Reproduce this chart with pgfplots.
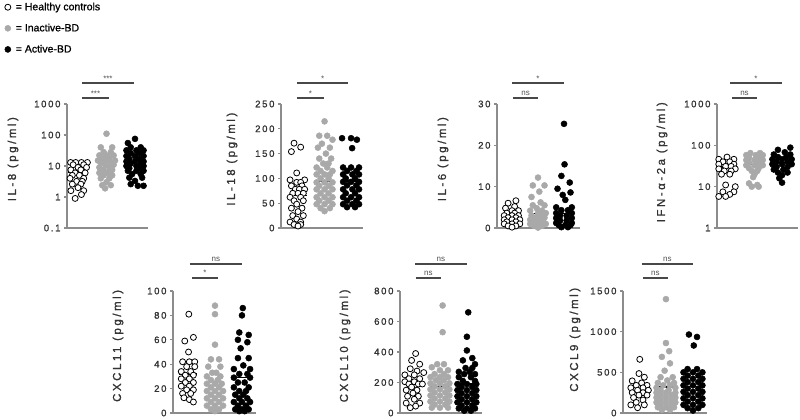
\documentclass[border=0pt]{standalone}
\usepackage{pgfplots}
\pgfplotsset{compat=1.18}
\usepackage{fontspec}
\setmainfont{Liberation Sans}
\newfontfamily\spfont[LetterSpace=18, FakeBold=1.2]{Liberation Sans}
\newfontfamily\lbfont[LetterSpace=22, FakeBold=1.2]{Liberation Sans}
\newfontfamily\lgfont[FakeBold=1]{Liberation Sans}
\definecolor{axgray}{HTML}{8C8C8C}
\definecolor{txtgray}{HTML}{333333}
\definecolor{inagray}{HTML}{A9A9A9}
\definecolor{bargray}{HTML}{484848}
\definecolor{siggray}{HTML}{505050}
\newcommand\tickfont{\spfont\fontsize{9.5}{10}\selectfont}
\newcommand\labfont{\lbfont\fontsize{11.5}{12}\selectfont}
\newcommand\sigfont{\fontsize{8}{9}\selectfont}
\newcommand\legfont{\lgfont\fontsize{10.5}{12}\selectfont}
\pgfplotsset{
 panel/.style={scale only axis, axis lines=left,
   axis line style={-, draw=axgray, line width=1.1pt},
   xtick=\empty, tick align=outside, major tick length=3pt,
   every tick/.style={draw=axgray, line width=1.1pt},
   yticklabel style={font=\tickfont, text=txtgray},
   ylabel style={font=\labfont, text=txtgray, anchor=center},
   clip=false, enlargelimits=false, yminorticks=false,
   /pgf/number format/assume math mode=true},
 hc/.style={only marks, mark=*, mark size=3pt, mark options={fill=white, draw=black, line width=0.8pt}},
 ib/.style={only marks, mark=*, mark size=3pt, mark options={fill=inagray, draw=inagray, line width=0.5pt}},
 ab/.style={only marks, mark=*, mark size=3pt, mark options={fill=black, draw=black, line width=0.5pt}},
 med/.style={black, line width=1.3pt, forget plot, no marks},
}
\tikzset{sigbar/.style={draw=bargray, line width=1.6pt}}
\newcommand{\sig}[4]{\draw[sigbar] ({axis cs:#1,1}|-{rel axis cs:0,#3}) -- node[above, font=\sigfont, text=siggray, inner sep=1.2pt] {#4} ({axis cs:#2,1}|-{rel axis cs:0,#3});}

\begin{document}
\begin{tikzpicture}
\useasboundingbox (0pt,0pt) rectangle (800pt,420pt);

% ---------- IL-8 ----------
\begin{axis}[panel, at={(67pt,192pt)}, anchor=south west, width=81pt, height=124pt,
  xmin=0.614, xmax=3.456, ymode=log, ymin=0.1, ymax=1000,
  ytick={0.1,1,10,100,1000}, yticklabels={0.1,1,10,100,1000},
  ylabel={IL-8 (pg/ml)}, ylabel style={at={(axis description cs:-0.667,0.555)}},
  legend style={at={(axis description cs:-0.77,1.835)}, anchor=north west, draw=none, fill=none,
    font=\legfont, row sep=8pt, inner sep=0pt, column sep=3pt,
    mark options={scale=1.15}},
  legend image code/.code={\draw[#1] plot coordinates {(3pt,0pt)};},
  legend cell align=left]
\addplot[hc] coordinates {(0.74,13)(0.92,13)(1.12,13)(1.33,13)(0.83,11)(1.2,11)(1.0,9)(1.3,9)
 (0.75,7.5)(1.1,7.5)(0.9,6)(1.25,6)(0.8,5)(1.05,5)(0.72,4)(1.2,4)(0.95,3.2)(1.15,3.2)
 (0.8,2.6)(1.1,2.6)(1.0,2)(0.75,1.6)(1.2,1.6)(1.12,1.2)(0.9,0.9)};
\addlegendentry{= Healthy controls}
\addplot[ib] coordinates {(2,110)(1.8,40)(2.2,40)(1.9,28)(2.15,28)(1.75,22)(2,22)(2.25,22)
 (1.85,18)(2.1,18)(1.7,15)(2,15)(2.3,15)(1.8,13)(2.15,13)(1.95,11)(2.25,11)(1.75,9)(2.1,9)
 (1.9,7.5)(2.2,7.5)(1.75,6)(2.05,6)(1.9,5)(2.2,5)(1.8,4)(2.1,4)(2,3)(1.85,2.4)(2.15,2.4)(1.95,1.9)};
\addlegendentry{= Inactive-BD}
\addplot[ab] coordinates {(3,75)(2.75,55)(2.85,40)(3.2,40)(2.7,32)(3.05,32)(3.3,32)(2.85,26)(3.15,26)
 (2.7,21)(3,21)(3.3,21)(2.8,17)(3.15,17)(2.7,14)(3,14)(3.3,14)(2.85,12)(3.2,12)(2.7,10)(3.05,10)(3.3,10)
 (2.8,8.5)(3.15,8.5)(2.75,7)(3.05,7)(3.3,7)(2.9,5.5)(3.2,5.5)(2.8,4.2)(3.25,4.2)(3,3.3)(2.85,2.6)(3.1,2.3)(3.3,2.3)};
\addlegendentry{= Active-BD}
\addplot[med] coordinates {(0.65,6.2)(1.35,6.2)};
\addplot[med] coordinates {(1.65,15)(2.35,15)};
\addplot[med] coordinates {(2.65,14)(3.35,14)};
\sig{1.14}{2.96}{1.169}{***}
\sig{1.14}{2.09}{1.048}{***}
\end{axis}

% ---------- IL-18 ----------
\begin{axis}[panel, at={(281pt,192pt)}, anchor=south west, width=82pt, height=124pt,
  xmin=0.358, xmax=3.45, ymin=0, ymax=250,
  ytick={0,50,100,150,200,250}, yticklabels={0,50,100,150,200,250},
  ylabel={IL-18 (pg/ml)}, ylabel style={at={(axis description cs:-0.598,0.555)}}]
\addplot[hc] coordinates {(0.85,171)(1.1,163)(0.75,154)(0.95,111)(0.7,97)(1.25,97)(0.95,92)(1.1,92)
 (0.75,85)(1.15,85)(0.9,78)(1.05,78)(1.25,78)(0.8,70)(1,70)(1.2,70)(0.7,62)(1.1,62)(0.85,55)(1.2,55)
 (0.95,48)(0.75,40)(1.15,40)(1,33)(0.8,25)(1.2,25)(0.95,18)(0.7,12)(1.1,12)(0.85,7)(1.1,7)(1,4)};
\addplot[ib] coordinates {(2,215)(1.8,186)(2.1,186)(2.3,178)(1.9,170)(1.75,162)(2.2,162)(2.05,150)
 (1.8,140)(2.25,140)(1.95,130)(2.15,130)(1.7,122)(2.1,122)(1.85,115)(2.3,115)(1.7,108)(2,108)(2.2,108)
 (1.85,100)(2.15,100)(1.7,92)(2,92)(2.3,92)(1.8,85)(2.15,85)(1.7,78)(2,78)(2.3,78)(1.85,70)(2.15,70)
 (1.7,62)(2,62)(2.3,62)(1.8,55)(2.15,55)(1.7,48)(2,48)(2.3,48)(1.85,40)(2.2,40)(2,34)};
\addplot[ab] coordinates {(2.66,181)(3.0,181)(3.22,178)(3.04,161)(2.7,122)(3,122)(3.3,122)(2.85,115)(3.2,115)
 (2.7,108)(3.05,108)(3.3,108)(2.8,100)(3.15,100)(2.7,93)(3,93)(3.3,93)(2.85,86)(3.2,86)
 (2.7,78)(3.05,78)(3.3,78)(2.8,70)(3.15,70)(2.7,62)(3,62)(3.3,62)(2.85,55)(3.2,55)
 (2.7,48)(3.05,48)(3.3,48)(2.85,42)(3.15,42)};
\addplot[med] coordinates {(0.65,66)(1.35,66)};
\addplot[med] coordinates {(1.65,95)(2.35,95)};
\addplot[med] coordinates {(2.65,95)(3.35,95)};
\sig{0.96}{2.89}{1.169}{*}
\sig{0.96}{1.98}{1.048}{*}
\end{axis}

% ---------- IL-6 ----------
\begin{axis}[panel, at={(497pt,192pt)}, anchor=south west, width=83pt, height=124pt,
  xmin=0.423, xmax=3.615, ymin=0, ymax=30,
  ytick={0,10,20,30}, yticklabels={0,10,20,30},
  ylabel={IL-6 (pg/ml)}, ylabel style={at={(axis description cs:-0.651,0.555)}}]
\addplot[hc] coordinates {(1.15,6.6)(0.85,6)(1.1,5.2)(0.75,4.8)(1,4.2)(1.25,4.2)(0.8,3.6)(1.1,3.6)
 (0.7,3)(1,3)(1.25,3)(0.85,2.5)(1.15,2.5)(0.7,2)(1,2)(1.3,2)(0.8,1.5)(1.15,1.5)(0.7,1)(1,1)(1.3,1)
 (0.85,0.5)(1.15,0.5)(1,0.2)};
\addplot[ib] coordinates {(2,12.2)(1.8,10.3)(2.25,10.3)(2.05,8.8)(1.75,7.5)(2.1,6.2)(1.8,5.5)(2.25,5.5)
 (1.95,4.8)(1.7,4.2)(2.15,4.2)(2,3.6)(2.3,3.6)(1.75,3)(2.1,3)(1.9,2.5)(2.25,2.5)(1.7,2)(2.05,2)
 (1.85,1.5)(2.2,1.5)(1.7,1)(2,1)(2.3,1)(1.85,0.5)(2.15,0.5)(2,0.1)};
\addplot[ab] coordinates {(3,25.2)(3.02,15.4)(2.9,12.6)(3.22,11)(2.75,9.5)(3.25,8.6)(2.95,8)(3.05,6.8)
 (2.7,5)(3.3,5)(2.9,4.3)(3.15,4.3)(2.7,3.6)(3.3,3.6)(2.85,3)(3.1,3)(2.7,2.4)(3.3,2.4)(2.85,1.8)(3.1,1.8)
 (2.7,1.2)(3.3,1.2)(2.8,0.7)(3.05,0.7)(3.25,0.7)(2.9,0.2)(3.15,0.2)};
\addplot[med] coordinates {(0.65,2.3)(1.35,2.3)};
\addplot[med] coordinates {(1.65,3.5)(2.35,3.5)};
\addplot[med] coordinates {(2.65,3.5)(3.35,3.5)};
\sig{1.0}{3.0}{1.169}{*}
\sig{1.04}{2.0}{1.048}{ns}
\end{axis}

% ---------- IFN-alpha-2a ----------
\begin{axis}[panel, at={(717pt,192pt)}, anchor=south west, width=81pt, height=124pt,
  xmin=0.636, xmax=3.58, ymode=log, ymin=1, ymax=1000,
  ytick={1,10,100,1000}, yticklabels={1,10,100,1000},
  ylabel={IFN-α-2a (pg/ml)}, ylabel style={at={(axis description cs:-0.679,0.53)}}]
\addplot[hc] coordinates {(1,52)(0.7,46)(1.25,46)(0.85,40)(1.1,40)(0.7,35)(1.25,35)(0.95,31)(1.15,31)
 (0.7,27)(1.3,27)(0.9,24)(1.15,24)(0.8,20)(1.1,20)(0.95,11)(1.3,10)(0.85,7.5)(1.25,7.5)(1.1,6.5)(0.7,5.8)(0.95,5.8)};
\addplot[ib] coordinates {(1.85,65)(2.2,65)(1.7,58)(2.05,58)(2.3,58)(1.8,50)(2.15,50)(1.7,44)(2,44)(2.3,44)
 (1.8,38)(2.15,38)(1.7,33)(2,33)(2.3,33)(1.8,28)(2.15,28)(1.9,24)(2.1,24)(2,20)(1.95,17)(1.8,12)(2.1,11)(1.9,10)(2.15,10)};
\addplot[ab] coordinates {(3.3,88)(2.85,78)(3.1,68)(2.7,60)(3.3,60)(2.85,52)(3.15,52)(2.65,46)(3,46)(3.35,46)
 (2.8,40)(3.2,40)(2.65,35)(3,35)(3.35,35)(2.8,30)(3.2,30)(2.7,26)(3.05,26)(2.85,22)(3.2,22)(3,19)(2.9,16)(3,12.5)};
\addplot[med] coordinates {(0.65,30)(1.35,30)};
\addplot[med] coordinates {(1.65,35)(2.35,35)};
\addplot[med] coordinates {(2.65,38)(3.35,38)};
\sig{1.11}{3.0}{1.169}{*}
\sig{1.18}{2.09}{1.048}{ns}
\end{axis}

% ---------- CXCL11 ----------
\begin{axis}[panel, at={(173pt,7pt)}, anchor=south west, width=83pt, height=122pt,
  xmin=0.444, xmax=3.52, ymin=0, ymax=100,
  ytick={0,20,40,60,80,100}, yticklabels={0,20,40,60,80,100},
  ylabel={CXCL11 (pg/ml)}, ylabel style={at={(axis description cs:-0.663,0.55)}}]
\addplot[hc] coordinates {(1.03,81)(1.2,62)(0.88,59)(1.02,50)(0.8,42)(1.05,42)(1.25,42)(0.95,38)(1.25,38)
 (0.75,34)(1.1,34)(0.9,31)(1.2,31)(0.75,28)(1.05,28)(0.9,25)(1.2,25)(0.75,22)(1.05,22)(0.95,19)(1.2,19)
 (0.8,16)(1.1,16)(0.85,12.5)(1.05,11)(1.2,9)};
\addplot[ib] coordinates {(2,88)(2,81)(2,56)(1.85,44)(2.15,44)(1.75,38)(2.2,38)(1.9,33)(2.05,33)(1.7,30)(2.2,30)
 (1.85,27)(2.1,27)(1.7,24)(2,24)(2.25,24)(1.85,21)(2.15,21)(1.7,18)(2,18)(2.3,18)(1.85,15)(2.15,15)
 (1.7,12)(2,12)(2.3,12)(1.85,9)(2.15,9)(1.7,6)(2,6)(2.3,6)(1.85,3)(2.15,3)(2,1.5)};
\addplot[ab] coordinates {(3.03,86)(3,80)(2.9,66)(3.25,64)(2.85,60)(3.2,58)(2.95,53)(2.85,45)(3.25,45)(3.05,39)
 (2.7,36)(3.3,36)(2.9,32)(3.2,32)(2.7,29)(3.3,29)(2.85,25)(3.1,25)(2.7,21)(3.25,21)(2.9,18)(3.15,18)
 (2.75,15)(3.05,15)(2.9,12)(3.2,12)(2.7,9)(3,9)(3.3,9)(2.85,6)(3.15,6)(2.75,3)(3,3)(3.25,3)(2.9,1.5)(3.1,1.5)};
\addplot[med] coordinates {(0.65,32)(1.35,32)};
\addplot[med] coordinates {(1.65,22.5)(2.35,22.5)};
\addplot[med] coordinates {(2.65,29)(3.35,29)};
\sig{1.07}{3.0}{1.221}{ns}
\sig{1.15}{2.1}{1.107}{*}
\end{axis}

% ---------- CXCL10 ----------
\begin{axis}[panel, at={(400pt,7pt)}, anchor=south west, width=82pt, height=122pt,
  xmin=0.52, xmax=3.56, ymin=0, ymax=800,
  ytick={0,200,400,600,800}, yticklabels={0,200,400,600,800},
  ylabel={CXCL10 (pg/ml)}, ylabel style={at={(axis description cs:-0.671,0.55)}}]
\addplot[hc] coordinates {(1.1,390)(0.95,345)(1.25,320)(0.9,290)(1.15,275)(1.4,265)(0.7,250)(1.05,250)
 (0.85,225)(1.25,225)(0.7,205)(1.05,205)(0.85,190)(1.2,190)(1.35,190)(0.95,170)(0.75,150)(1.15,150)
 (1,130)(0.8,110)(1.2,110)(1.05,90)(0.75,65)(1.25,65)(1.1,45)(0.9,35)};
\addplot[ib] coordinates {(2.1,705)(2.1,530)(1.9,320)(2.15,320)(1.7,300)(2,280)(2.3,280)(1.8,255)(2.15,255)
 (1.65,235)(2,235)(2.3,235)(1.85,215)(2.15,215)(1.65,195)(2,195)(2.35,195)(1.8,175)(2.2,175)
 (1.65,155)(2,155)(2.35,155)(1.8,135)(2.2,135)(1.65,115)(2,115)(2.35,115)(1.8,95)(2.2,95)
 (1.65,75)(2,75)(2.35,75)(1.8,55)(2.2,55)(1.7,35)(2,35)(2.3,35)};
\addplot[ab] coordinates {(3.05,660)(3,500)(3,410)(3.2,360)(2.85,345)(3.3,320)(2.95,295)(3.2,295)(2.7,270)(3.1,270)
 (2.9,255)(3.3,255)(2.7,235)(3.15,235)(2.85,210)(3.3,210)(2.65,190)(3,190)(3.35,190)(2.8,170)(3.2,170)
 (2.65,150)(3,150)(3.35,150)(2.8,130)(3.2,130)(2.65,110)(3,110)(3.35,110)(2.8,90)(3.2,90)
 (2.65,70)(3,70)(3.35,70)(2.8,50)(3.2,50)(2.7,30)(3,30)(3.3,30)(2.9,15)(3.15,15)};
\addplot[med] coordinates {(0.65,191)(1.35,191)};
\addplot[med] coordinates {(1.65,175)(2.35,175)};
\addplot[med] coordinates {(2.65,190)(3.35,190)};
\sig{1.07}{3.0}{1.221}{ns}
\sig{1.1}{2.05}{1.107}{ns}
\end{axis}

% ---------- CXCL9 ----------
\begin{axis}[panel, at={(623pt,7pt)}, anchor=south west, width=84pt, height=122pt,
  xmin=0.41, xmax=3.52, ymin=0, ymax=1500,
  ytick={0,500,1000,1500}, yticklabels={0,500,1000,1500},
  ylabel={CXCL9 (pg/ml)}, ylabel style={at={(axis description cs:-0.571,0.6)}}]
\addplot[hc] coordinates {(1.03,660)(1,485)(1.2,440)(0.75,395)(1.1,370)(0.9,340)(1.3,340)(0.7,310)(1.15,310)
 (0.95,280)(1.35,280)(0.75,250)(1.15,250)(1,220)(1.3,220)(0.8,190)(1.15,160)(0.9,130)(0.7,100)(1.2,100)(0.95,65)};
\addplot[ib] coordinates {(2,1400)(2,860)(2.12,760)(1.85,690)(2.15,610)(1.95,520)(1.8,440)(2.25,440)(2.05,400)
 (1.7,370)(2.3,370)(1.9,340)(2.15,340)(1.65,310)(2.35,310)(1.8,280)(2.1,280)(1.65,250)(2,250)(2.35,250)
 (1.8,220)(2.2,220)(1.65,190)(2,190)(2.35,190)(1.8,160)(2.2,160)(1.65,130)(2,130)(2.35,130)
 (1.8,100)(2.2,100)(1.7,70)(2,70)(2.3,70)(1.85,40)(2.15,40)};
\addplot[ab] coordinates {(2.85,965)(3.15,935)(3.03,830)(2.8,540)(3.15,540)(2.65,500)(3,500)(3.35,500)
 (2.8,460)(3.2,460)(2.65,420)(3,420)(3.35,420)(2.8,380)(3.2,380)(2.65,340)(3,340)(3.35,340)
 (2.8,300)(3.2,300)(2.65,260)(3,260)(3.35,260)(2.8,220)(3.2,220)(2.65,180)(3,180)(3.35,180)
 (2.8,140)(3.2,140)(2.65,100)(3,100)(3.35,100)(2.8,60)(3.2,60)(3,30)};
\addplot[med] coordinates {(0.65,260)(1.35,260)};
\addplot[med] coordinates {(1.65,318)(2.35,318)};
\addplot[med] coordinates {(2.65,330)(3.35,330)};
\sig{1.11}{3.0}{1.221}{ns}
\sig{1.15}{2.07}{1.107}{ns}
\end{axis}
\end{tikzpicture}
\end{document}
